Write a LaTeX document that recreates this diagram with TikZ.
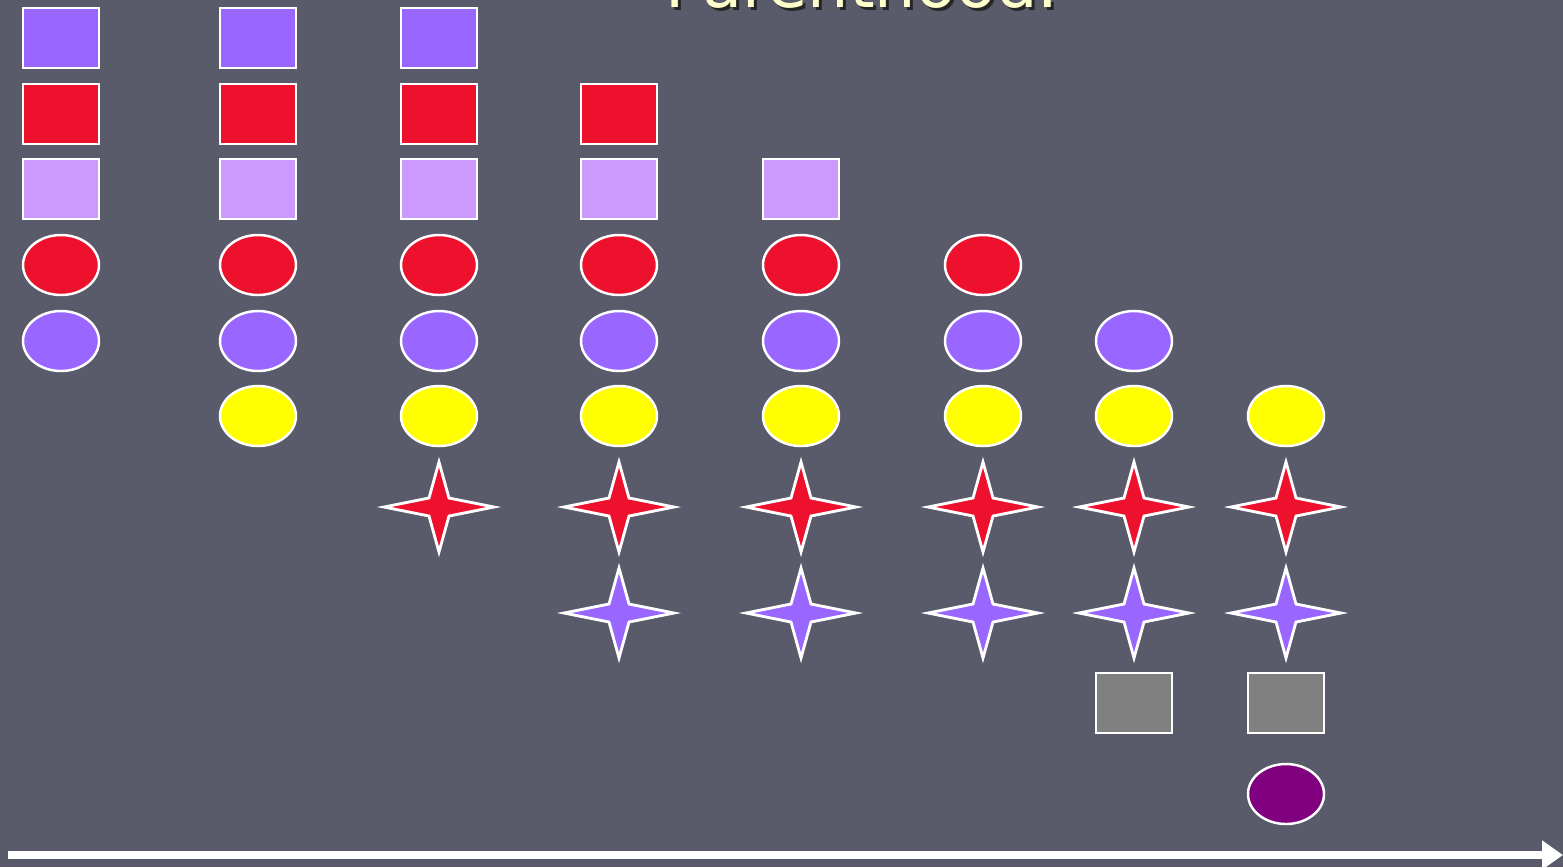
\documentclass[tikz,border=0pt]{standalone}
\usepackage{fontspec}
\setmainfont{DejaVu Sans}
\usepackage{tikz}
\usetikzlibrary{arrows.meta,shapes.geometric}
\definecolor{slate}{HTML}{595B6B}
\definecolor{cream}{HTML}{FFFFCC}
\definecolor{violet}{HTML}{9966FF}
\definecolor{lilac}{HTML}{CC99FF}
\definecolor{scarlet}{HTML}{EE112D}
\definecolor{lemon}{HTML}{FFFF00}
\definecolor{stone}{HTML}{808080}
\definecolor{plum}{HTML}{800080}
\tikzset{
  sqbox/.style={draw=white, line width=0.7pt, fill=#1, minimum width=7.6mm,
                minimum height=6mm, inner sep=0pt},
  oval/.style={ellipse, draw=white, line width=0.7pt, fill=#1, minimum width=7.6mm,
               minimum height=6mm, inner sep=0pt},
  pics/spark/.style={code={
    \draw[draw=white, line width=0.8pt, fill=#1]
      (0,-45) -- (10,-9) -- (55,0) -- (10,9) -- (0,45) -- (-10,9) -- (-55,0) -- (-10,-9) -- cycle;}},
  timeline/.style={-{Triangle[length=2.1mm, width=2.8mm]}, line width=0.8mm, draw=white},
  heading/.style={anchor=base, font=\fontsize{18.6}{20}\selectfont, inner sep=0pt}
}
\begin{document}
\begin{tikzpicture}[x=0.1mm, y=-0.1mm]
  \fill[slate] (0,0) rectangle (1563,867);
  \useasboundingbox (0,0) rectangle (1563,867);
  % title, mostly above the page
  \node[heading, text=black!85] (titleshade) at (865,10) {Parenthood.};
  \node[heading, text=cream] (title) at (862,7) {Parenthood.};
  % column 1
  \node[sqbox=violet]  (c1-a) at (61,38)  {};
  \node[sqbox=scarlet] (c1-b) at (61,114) {};
  \node[sqbox=lilac]   (c1-c) at (61,189) {};
  \node[oval=scarlet]  (c1-d) at (61,265) {};
  \node[oval=violet]   (c1-e) at (61,341) {};
  % column 2
  \node[sqbox=violet]  (c2-a) at (258,38)  {};
  \node[sqbox=scarlet] (c2-b) at (258,114) {};
  \node[sqbox=lilac]   (c2-c) at (258,189) {};
  \node[oval=scarlet]  (c2-d) at (258,265) {};
  \node[oval=violet]   (c2-e) at (258,341) {};
  \node[oval=lemon]    (c2-f) at (258,416) {};
  % column 3
  \node[sqbox=violet]  (c3-a) at (439,38)  {};
  \node[sqbox=scarlet] (c3-b) at (439,114) {};
  \node[sqbox=lilac]   (c3-c) at (439,189) {};
  \node[oval=scarlet]  (c3-d) at (439,265) {};
  \node[oval=violet]   (c3-e) at (439,341) {};
  \node[oval=lemon]    (c3-f) at (439,416) {};
  \pic (c3-g) at (439,507) {spark=scarlet};
  % column 4
  \node[sqbox=scarlet] (c4-b) at (619,114) {};
  \node[sqbox=lilac]   (c4-c) at (619,189) {};
  \node[oval=scarlet]  (c4-d) at (619,265) {};
  \node[oval=violet]   (c4-e) at (619,341) {};
  \node[oval=lemon]    (c4-f) at (619,416) {};
  \pic (c4-g) at (619,507) {spark=scarlet};
  \pic (c4-h) at (619,613) {spark=violet};
  % column 5
  \node[sqbox=lilac]   (c5-c) at (801,189) {};
  \node[oval=scarlet]  (c5-d) at (801,265) {};
  \node[oval=violet]   (c5-e) at (801,341) {};
  \node[oval=lemon]    (c5-f) at (801,416) {};
  \pic (c5-g) at (801,507) {spark=scarlet};
  \pic (c5-h) at (801,613) {spark=violet};
  % column 6
  \node[oval=scarlet]  (c6-d) at (983,265) {};
  \node[oval=violet]   (c6-e) at (983,341) {};
  \node[oval=lemon]    (c6-f) at (983,416) {};
  \pic (c6-g) at (983,507) {spark=scarlet};
  \pic (c6-h) at (983,613) {spark=violet};
  % column 7
  \node[oval=violet]   (c7-e) at (1134,341) {};
  \node[oval=lemon]    (c7-f) at (1134,416) {};
  \pic (c7-g) at (1134,507) {spark=scarlet};
  \pic (c7-h) at (1134,613) {spark=violet};
  \node[sqbox=stone]   (c7-i) at (1134,703) {};
  % column 8
  \node[oval=lemon]    (c8-f) at (1286,416) {};
  \pic (c8-g) at (1286,507) {spark=scarlet};
  \pic (c8-h) at (1286,613) {spark=violet};
  \node[sqbox=stone]   (c8-i) at (1286,703) {};
  \node[oval=plum]     (c8-j) at (1286,794) {};
  % time axis
  \coordinate (tstart) at (8,855);
  \coordinate (tend) at (1563,855);
  \draw[timeline] (tstart) -- (tend);
\end{tikzpicture}
\end{document}
